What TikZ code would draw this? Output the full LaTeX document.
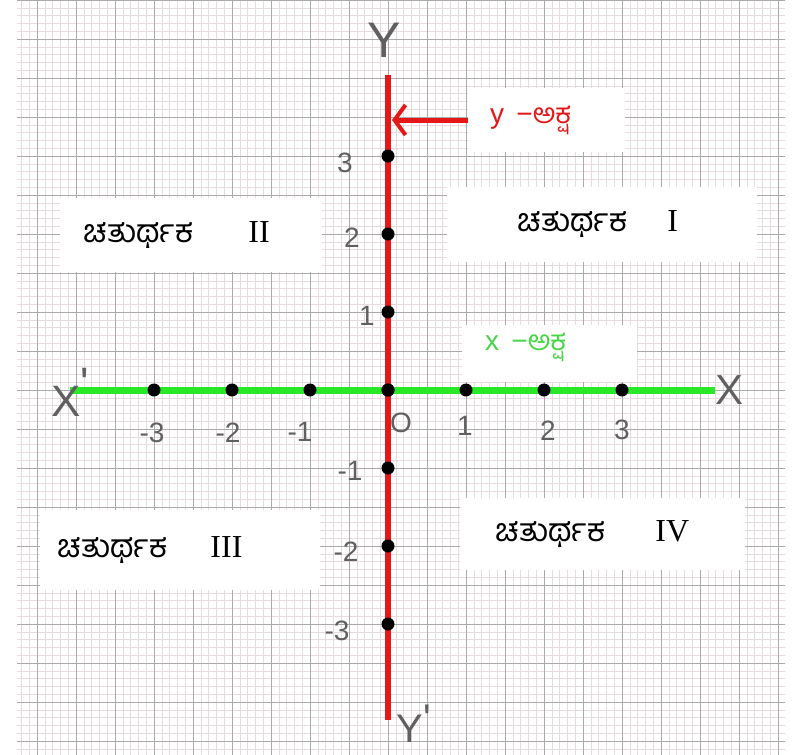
\documentclass[tikz,border=0pt]{standalone}
\usepackage{fontspec}
\setmainfont{Liberation Sans}
\newfontfamily\kanfont[Script=Kannada]{Hind Mysuru}
\newfontfamily\romfont{Liberation Serif}
\usetikzlibrary{positioning,arrows.meta}
\definecolor{axisRed}{RGB}{228,24,24}
\definecolor{axisGreen}{RGB}{40,232,40}
\definecolor{labelGreen}{RGB}{72,214,72}
\definecolor{gridMinor}{RGB}{230,220,224}
\definecolor{gridMajor}{RGB}{170,170,170}
\definecolor{pencil}{RGB}{96,96,96}
\newcommand{\quadword}{{\kanfont ಚತುರ್ಥಕ}}
\newcommand{\axisword}{{\kanfont ಅಕ್ಷ}}

\begin{document}
\begin{tikzpicture}[x=1pt,y=-1pt,
    quadbox/.style={fill=white,draw=none,inner sep=0pt},
    quadtext/.style={inner sep=0pt,text=black,font=\fontsize{32}{32}\selectfont},
    pen/.style={text=pencil,inner sep=0pt,font=\fontsize{28}{28}\selectfont},
    tickdot/.style={circle,fill=black,inner sep=0pt,minimum size=13pt}]
  \useasboundingbox (0,0) rectangle (804,755);
  \fill[white] (0,0) rectangle (804,755);
  % graph paper
  \begin{scope}
    \clip (17,0) rectangle (785,755);
    \foreach \i in {-48,...,51}
      \draw[gridMinor,line width=0.5pt] ({388+7.8*\i},0) -- ++(0,755);
    \foreach \j in {-50,...,47}
      \draw[gridMinor,line width=0.5pt] (0,{390+7.8*\j}) -- ++(804,0);
    \foreach \i in {-10,...,10}
      \draw[gridMajor,line width=0.9pt] ({388+39*\i},0) -- ++(0,755);
    \foreach \j in {-10,...,9}
      \draw[gridMajor,line width=0.9pt] (0,{390+39*\j}) -- ++(804,0);
  \end{scope}

  % white label boxes
  \node[quadbox,minimum width=310pt,minimum height=75pt] (q1box) at (602,224.5) {};
  \node[quadtext,right=70pt of q1box.west] (q1text) {\quadword\hspace{40pt}{\romfont I}};
  \node[quadbox,minimum width=262pt,minimum height=74pt] (q2box) at (191,235) {};
  \node[quadtext,right=23pt of q2box.west] (q2text) {\quadword\hspace{55pt}{\romfont II}};
  \node[quadbox,minimum width=280pt,minimum height=80pt] (q3box) at (180,550) {};
  \node[quadtext,right=17pt of q3box.west] (q3text) {\quadword\hspace{43pt}{\romfont III}};
  \node[quadbox,minimum width=285pt,minimum height=72pt] (q4box) at (602.5,534) {};
  \node[quadtext,right=35pt of q4box.west] (q4text) {\quadword\hspace{50pt}{\romfont IV}};
  \node[quadbox,minimum width=157pt,minimum height=64pt] (ybox) at (546.5,120) {};
  \node[inner sep=0pt,text=axisRed,font=\fontsize{28}{28}\selectfont,right=22pt of ybox.west] (ytext) {y \,−\axisword};
  \node[quadbox,minimum width=175pt,minimum height=57pt] (xbox) at (549.5,353.5) {};
  \node[inner sep=0pt,text=labelGreen,font=\fontsize{28}{28}\selectfont,right=23pt of xbox.west,yshift=6pt] (xtext) {x \,−\axisword};

  % axes
  \coordinate (xleft) at (70,390);
  \coordinate (xright) at (715,390);
  \coordinate (ytop) at (388,75);
  \coordinate (ybot) at (388,720);
  \coordinate (yhit) at (392,120);
  \draw[axisGreen,line width=7pt] (xleft) -- (xright);
  \draw[axisRed,line width=6pt] (ytop) -- (ybot);
  \draw[axisRed,line width=5pt,-{Straight Barb[length=11pt,width=30pt,line width=4pt]}] (ybox.west) -- (yhit);

  % points on the axes
  \foreach \t in {-3,...,3} {
    \node[tickdot] (xdot\t) at ({388+78*\t},390) {};
    \node[tickdot] (ydot\t) at (388,{390-78*\t}) {};
  }

  % pencil labels
  \node[pen,font=\fontsize{50}{50}\selectfont] (ylab) at (384,40) {Y};
  \node[pen,font=\fontsize{40}{40}\selectfont] (yprime) at (414,724) {Y\raisebox{10pt}{\textquotesingle}};
  \node[pen,font=\fontsize{44}{44}\selectfont] (xprime) at (70,392) {X\raisebox{18pt}{\textquotesingle}};
  \node[pen,font=\fontsize{42}{42}\selectfont] (xlab) at (730,390) {X};
  \node[pen] (orig) at (401,423) {O};
  \node[pen] (xm3) at (152,433) {-3};
  \node[pen] (xm2) at (228,433) {-2};
  \node[pen] (xm1) at (300,432) {-1};
  \node[pen] (xp1) at (465,426) {1};
  \node[pen] (xp2) at (548,431) {2};
  \node[pen] (xp3) at (622,430) {3};
  \node[pen] (yp3) at (345,163) {3};
  \node[pen] (yp2) at (352,238) {2};
  \node[pen] (yp1) at (367,316) {1};
  \node[pen] (ym1) at (350,471) {-1};
  \node[pen] (ym2) at (346,552) {-2};
  \node[pen] (ym3) at (337,631) {-3};
\end{tikzpicture}
\end{document}
